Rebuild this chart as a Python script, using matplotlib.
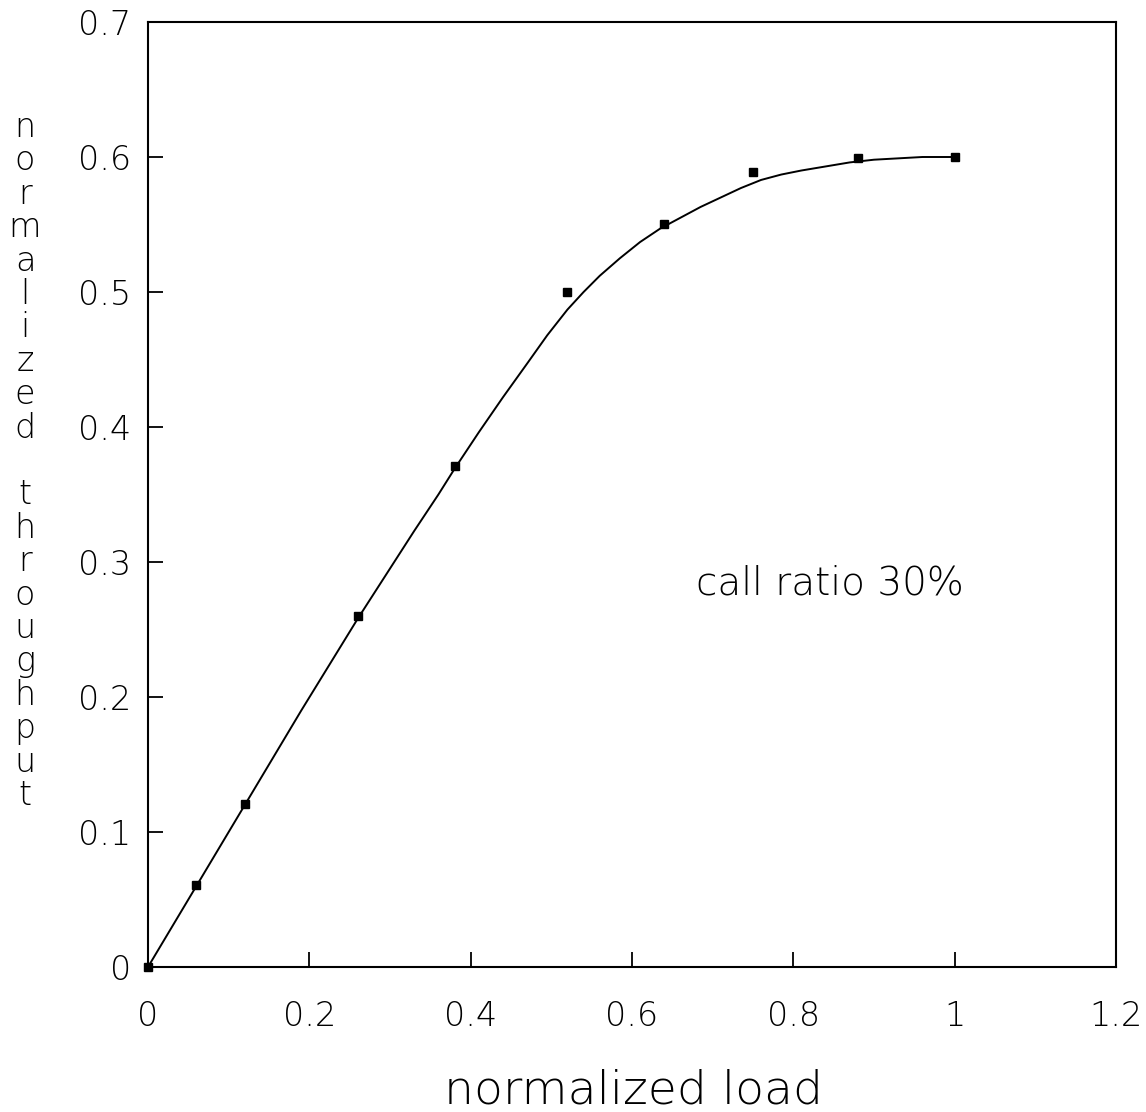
import matplotlib
matplotlib.use("Agg")
import matplotlib.pyplot as plt

plt.rcParams['font.family'] = ['DejaVu Sans']
plt.rcParams['font.weight'] = 'light'

# measured throughput points
load_pts = [0.0, 0.06, 0.12, 0.26, 0.38, 0.52, 0.64, 0.75, 0.88, 1.0]
thru_pts = [0.0, 0.061, 0.121, 0.26, 0.371, 0.50, 0.55, 0.589, 0.599, 0.60]

# fitted curve through the measurements
curve_load = [0.0, 0.06, 0.12, 0.19, 0.26, 0.33, 0.36, 0.38, 0.41, 0.44, 0.47,
              0.495, 0.52, 0.54, 0.56, 0.585, 0.61, 0.635, 0.66, 0.685, 0.71,
              0.735, 0.76, 0.785, 0.81, 0.84, 0.87, 0.90, 0.93, 0.96, 1.0]
curve_thru = [0.0, 0.06, 0.12, 0.19, 0.258, 0.323, 0.350, 0.369, 0.396, 0.422, 0.447,
              0.468, 0.487, 0.500, 0.512, 0.525, 0.537, 0.547, 0.555, 0.563, 0.570,
              0.577, 0.583, 0.587, 0.590, 0.593, 0.596, 0.598, 0.599, 0.600, 0.600]

xticks = [0, 0.2, 0.4, 0.6, 0.8, 1.0, 1.2]
xtick_labels = ['0', '0.2', '0.4', '0.6', '0.8', '1', '1.2']
yticks = [0, 0.1, 0.2, 0.3, 0.4, 0.5, 0.6, 0.7]
ytick_labels = ['0', '0.1', '0.2', '0.3', '0.4', '0.5', '0.6', '0.7']

W, H = 1146, 1112
fig = plt.figure(figsize=(W / 100, H / 100), dpi=100)
ax = fig.add_axes([148 / W, 1 - 967 / H, (1116 - 148) / W, (967 - 22) / H])

ax.plot(curve_load, curve_thru, color='black', lw=1.4)
ax.plot(load_pts, thru_pts, 's', color='black', markersize=6, clip_on=False, zorder=3)

ax.set_xlim(0, 1.2)
ax.set_ylim(0, 0.7)
ax.set_xticks(xticks)
ax.set_xticklabels(xtick_labels)
ax.set_yticks(yticks)
ax.set_yticklabels(ytick_labels)

for s in ax.spines.values():
    s.set_linewidth(1.5)
ax.tick_params(axis='both', direction='in', length=11, width=1.3, labelsize=24)
ax.tick_params(axis='x', pad=24)
ax.tick_params(axis='y', pad=12)

ax.text(0.566, 0.406, 'call ratio 30%', transform=ax.transAxes,
        fontsize=28, va='center', ha='left')

fig.text(634 / W, 1 - 1103 / H, 'normalized load', fontsize=34,
         ha='center', va='baseline')

# vertical stacked y label, one letter per row
ylab = 'normalized throughput'
for i, ch in enumerate(ylab):
    if ch == ' ':
        continue
    fig.text(25 / W, 1 - (137 + 33.4 * i) / H, ch, fontsize=24,
             ha='center', va='baseline')

fig.savefig('out.png', dpi=100)
